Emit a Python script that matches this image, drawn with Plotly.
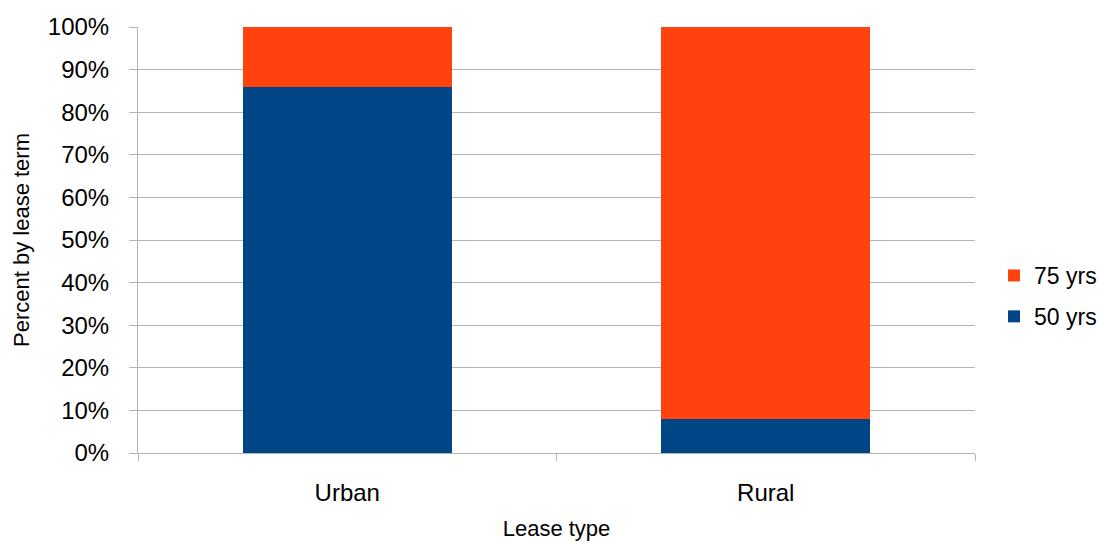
import plotly.graph_objects as go

categories = ["Urban", "Rural"]
yrs50 = [86, 8]
yrs75 = [14, 92]
ytick_vals = [0, 10, 20, 30, 40, 50, 60, 70, 80, 90, 100]
ytick_text = [f"{v}%" for v in ytick_vals]

fig = go.Figure()
fig.add_trace(go.Bar(name="50 yrs", x=categories, y=yrs50, marker_color="#004586",
                     marker_line_width=0, width=0.5, legendgroup="a", legendrank=2))
fig.add_trace(go.Bar(name="75 yrs", x=categories, y=yrs75, marker_color="#ff420e",
                     marker_line_width=0, width=0.5, legendgroup="b", legendrank=1))

font = "Liberation Sans, Arial, sans-serif"
fig.update_layout(
    barmode="stack",
    width=1100, height=541,
    margin=dict(l=138, r=125, t=27, b=88, autoexpand=False),
    plot_bgcolor="white", paper_bgcolor="white",
    font=dict(family=font, color="black", size=24),
    legend=dict(traceorder="grouped", tracegroupgap=8,
                x=(994 - 138) / (975 - 138), y=(453 - 296) / 426, yanchor="middle",
                font=dict(size=23), itemwidth=30),
    xaxis=dict(
        tickson="boundaries", ticks="outside", ticklen=7, tickcolor="#b3b3b3",
        showline=True, linecolor="#b3b3b3", linewidth=1, showgrid=False,
        tickfont=dict(size=24), ticklabelstandoff=18, automargin=False,
        title=dict(text="Lease type", font=dict(size=22), standoff=22),
    ),
    yaxis=dict(
        range=[0, 100], tickmode="array", tickvals=ytick_vals, ticktext=ytick_text,
        ticks="outside", ticklen=8, tickcolor="#b3b3b3",
        showline=True, linecolor="#b3b3b3", linewidth=1,
        showgrid=True, gridcolor="#b3b3b3", gridwidth=1,
        tickfont=dict(size=24), zeroline=False, ticklabelstandoff=15, automargin=False,
        title=dict(text="Percent by lease term", font=dict(size=22), standoff=12),
    ),
)

fig.write_html("out.html")
